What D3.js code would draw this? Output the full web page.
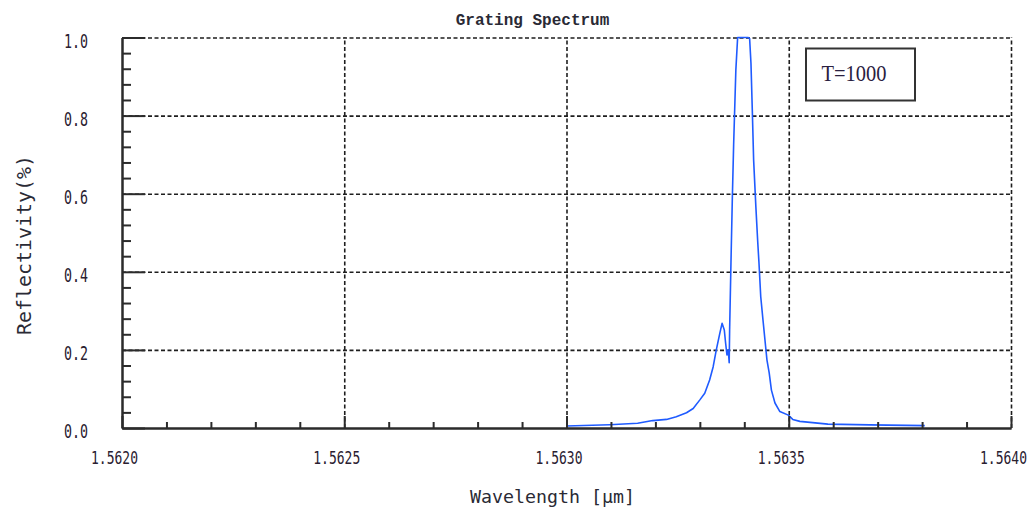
<!DOCTYPE html>
<html>
<head>
<meta charset="utf-8">
<script src="https://cdn.jsdelivr.net/npm/d3@7"></script>
<style>
  body { margin: 0; background: #fff; }
  svg { display: block; }
  .grid line { stroke: #1e1e1e; stroke-width: 1.6; stroke-dasharray: 4,2.5; }
  .grid path { display: none; }
  .axis path, .axis line { stroke: #2b2b2b; stroke-width: 2; }
  .axisLabel text { font-family: 'DejaVu Sans Mono', monospace; fill: #2a2030; }
</style>
</head>
<body>
<svg width="1031" height="513"></svg>
<script>
// values
const wavelength = [
  1.563000, 1.563097, 1.563160, 1.563194, 1.563225, 1.563247, 1.563270, 1.563285,
  1.563300, 1.563311, 1.563322, 1.563330, 1.563337, 1.563345, 1.563350, 1.563355,
  1.563358, 1.563361, 1.563364, 1.563366, 1.563367, 1.563370, 1.563373, 1.563376,
  1.563381, 1.563385, 1.563409, 1.563412, 1.563415, 1.563418, 1.563421, 1.563426,
  1.563430, 1.563433, 1.563437, 1.563442, 1.563448, 1.563451, 1.563456, 1.563461,
  1.563469, 1.563480, 1.563499, 1.563509, 1.563525, 1.563588, 1.563682, 1.563806
]
const reflectivity = [
  0.005, 0.0085, 0.012, 0.019, 0.022, 0.029, 0.039, 0.050,
  0.072, 0.089, 0.123, 0.157, 0.200, 0.243, 0.268, 0.251,
  0.217, 0.187, 0.200, 0.167, 0.251, 0.423, 0.584, 0.725,
  0.917, 1.000, 1.000, 0.997, 0.934, 0.814, 0.686, 0.567,
  0.481, 0.423, 0.336, 0.277, 0.208, 0.174, 0.141, 0.097,
  0.064, 0.042, 0.033, 0.022, 0.017, 0.010, 0.008, 0.006
]
const xTicks = [1.5620, 1.5625, 1.5630, 1.5635, 1.5640]
const yTicks = [0.0, 0.2, 0.4, 0.6, 0.8, 1.0]
const xDomain = [1.5620, 1.5640]
const yDomain = [0, 1]
const titleText = 'Grating Spectrum'
const xLabelText = 'Wavelength [\u00b5m]'
const yLabelText = 'Reflectivity(%)'
const legendText = 'T=1000'

draw()

function draw () {
  const dim = setDimensions()
  const scales = setScales(dim)
  const svg = d3.select('svg')

  drawGrid(svg, dim, scales)
  drawPath(svg, scales)
  drawAxes(svg, dim, scales)
  drawTexts(svg)
  drawLegend(svg)
}

function setDimensions () {
  const margin = {top: 37.5, right: 20, bottom: 85, left: 122}
  const width = 1031
  const height = 513
  return { width, height, margin }
}

function setScales ({ width, height, margin }) {
  return {
    xScale: d3.scaleLinear().domain(xDomain).range([margin.left, width - margin.right]),
    yScale: d3.scaleLinear().domain(yDomain).range([height - margin.bottom, margin.top])
  }
}

function minorValues (ticks, parts) {
  const out = []
  for (let i = 0; i < ticks.length - 1; i++) {
    const step = (ticks[i + 1] - ticks[i]) / parts
    for (let k = 1; k < parts; k++) out.push(ticks[i] + k * step)
  }
  return out
}

function drawGrid (svg, { width, height, margin }, { xScale, yScale }) {
  const innerW = width - margin.left - margin.right
  const innerH = height - margin.top - margin.bottom

  svg.append('g')
    .attr('class', 'grid')
    .attr('transform', 'translate(0,' + (height - margin.bottom) + ')')
    .call(d3.axisBottom(xScale).tickValues(xTicks.slice(1)).tickSize(-innerH).tickFormat(''))

  svg.append('g')
    .attr('class', 'grid')
    .attr('transform', 'translate(' + margin.left + ',0)')
    .call(d3.axisLeft(yScale).tickValues(yTicks.slice(1)).tickSize(-innerW).tickFormat(''))
}

function drawPath (svg, { xScale, yScale }) {
  const path = d3.line()
    .x((d, i) => xScale(wavelength[i]))
    .y((d) => yScale(d))

  svg.append('path')
    .datum(reflectivity)
    .attr('id', 'spectrumPath')
    .attr('fill', 'none')
    .attr('stroke', '#1f5bff')
    .attr('stroke-width', 1.6)
    .attr('stroke-linejoin', 'round')
    .attr('d', path)
}

function drawAxes (svg, { height, margin }, { xScale, yScale }) {
  const bottom = height - margin.bottom

  // minor ticks
  svg.append('g')
    .attr('class', 'axis')
    .attr('transform', 'translate(0,' + bottom + ')')
    .call(d3.axisBottom(xScale).tickValues(minorValues(xTicks, 5)).tickSize(-6).tickSizeOuter(0).tickFormat(''))
  svg.append('g')
    .attr('class', 'axis')
    .attr('transform', 'translate(' + margin.left + ',0)')
    .call(d3.axisLeft(yScale).tickValues(minorValues(yTicks, 5)).tickSize(-9).tickSizeOuter(0).tickFormat(''))

  // major ticks and labels (tall narrow glyphs: small font stretched vertically)
  const xAxis = svg.append('g')
    .attr('class', 'axis axisLabel bottomAxis')
    .attr('transform', 'translate(0,' + bottom + ')')
    .call(d3.axisBottom(xScale).tickValues(xTicks).tickSize(-12).tickSizeOuter(0).tickFormat(d3.format('.4f')))
  xAxis.selectAll('text')
    .attr('x', 0)
    .attr('y', 0)
    .attr('dy', null)
    .attr('font-size', 13)
    .attr('transform', 'translate(-8,35.5) scale(1,1.4)')

  const yAxis = svg.append('g')
    .attr('class', 'axis axisLabel leftAxis')
    .attr('transform', 'translate(' + margin.left + ',0)')
    .call(d3.axisLeft(yScale).tickValues(yTicks).tickSize(-23).tickSizeOuter(0).tickFormat(d3.format('.1f')))
  yAxis.selectAll('text')
    .attr('x', 0)
    .attr('y', 0)
    .attr('dy', null)
    .attr('font-size', 13.3)
    .attr('transform', 'translate(-34,9.5) scale(1,1.4)')
}

function drawTexts (svg) {
  svg.append('text')
    .attr('x', 532.5)
    .attr('y', 25)
    .attr('text-anchor', 'middle')
    .attr('font-family', "'Liberation Mono', monospace")
    .attr('font-weight', 'bold')
    .attr('font-size', 16)
    .attr('fill', '#2a2a35')
    .text(titleText)

  svg.append('text')
    .attr('x', 552.5)
    .attr('y', 503)
    .attr('text-anchor', 'middle')
    .attr('font-family', "'DejaVu Sans Mono', monospace")
    .attr('font-size', 18.5)
    .attr('fill', '#2a2a35')
    .attr('textLength', 165)
    .attr('lengthAdjust', 'spacingAndGlyphs')
    .text(xLabelText)

  svg.append('text')
    .attr('transform', 'translate(31,245) rotate(-90)')
    .attr('text-anchor', 'middle')
    .attr('font-family', "'DejaVu Sans Mono', monospace")
    .attr('font-size', 19.5)
    .attr('fill', '#2a2a35')
    .attr('textLength', 180)
    .attr('lengthAdjust', 'spacingAndGlyphs')
    .text(yLabelText)
}

function drawLegend (svg) {
  svg.append('rect')
    .attr('x', 806)
    .attr('y', 48.5)
    .attr('width', 109)
    .attr('height', 52)
    .attr('fill', '#fff')
    .attr('stroke', '#333')
    .attr('stroke-width', 2)

  svg.append('text')
    .attr('x', 821.5)
    .attr('y', 80.5)
    .attr('font-family', "'Liberation Serif', serif")
    .attr('font-size', 23)
    .attr('fill', '#2a2040')
    .attr('textLength', 65)
    .attr('lengthAdjust', 'spacingAndGlyphs')
    .text(legendText)
}
</script>
</body>
</html>
